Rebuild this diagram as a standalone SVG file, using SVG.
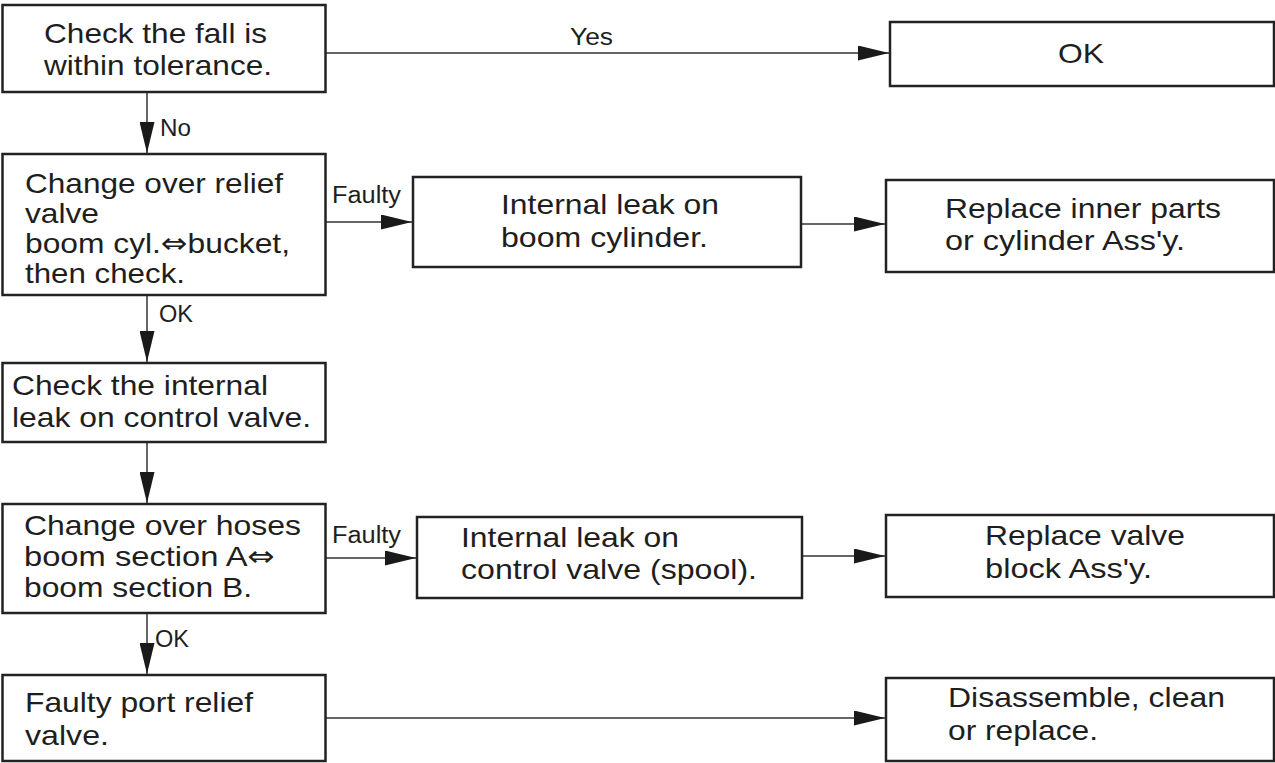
<svg xmlns="http://www.w3.org/2000/svg" width="1275" height="763" viewBox="0 0 1275 763">
<style>
.box{fill:#fff;stroke:#222;stroke-width:2.5}
.t{font-family:"Liberation Sans","DejaVu Sans",Arial,sans-serif;font-size:28.5px;fill:#1e1e1e}
.l{font-family:"Liberation Sans","DejaVu Sans",Arial,sans-serif;font-size:23px;fill:#1e1e1e}
.ar{font-family:"DejaVu Sans",sans-serif}
.c{fill:none;stroke:#333;stroke-width:1.5}
</style>
<defs>
<marker id="ah" markerUnits="userSpaceOnUse" markerWidth="31" markerHeight="15" refX="31" refY="7.5" orient="auto">
<path d="M0,0 L31,7.5 L0,15 z" fill="#1a1a1a"/>
</marker>
</defs>
<rect width="1275" height="763" fill="#fff"/>
<g id="connectors">
<line class="c" x1="326" y1="53" x2="889" y2="53" marker-end="url(#ah)"/>
<line class="c" x1="147" y1="92" x2="147" y2="153" marker-end="url(#ah)"/>
<line class="c" x1="325" y1="222" x2="412" y2="222" marker-end="url(#ah)"/>
<line class="c" x1="801" y1="224" x2="885" y2="224" marker-end="url(#ah)"/>
<line class="c" x1="147" y1="295" x2="147" y2="362" marker-end="url(#ah)"/>
<line class="c" x1="147" y1="442" x2="147" y2="503" marker-end="url(#ah)"/>
<line class="c" x1="325" y1="558" x2="416" y2="558" marker-end="url(#ah)"/>
<line class="c" x1="802" y1="556" x2="885" y2="556" marker-end="url(#ah)"/>
<line class="c" x1="147" y1="613" x2="147" y2="674" marker-end="url(#ah)"/>
<line class="c" x1="325" y1="718" x2="885" y2="718" marker-end="url(#ah)"/>
<text class="l" x="570" y="45" textLength="43" lengthAdjust="spacingAndGlyphs">Yes</text>
<text class="l" x="160" y="136" textLength="31" lengthAdjust="spacingAndGlyphs">No</text>
<text class="l" x="332" y="203" textLength="69" lengthAdjust="spacingAndGlyphs">Faulty</text>
<text class="l" x="159" y="322" textLength="34" lengthAdjust="spacingAndGlyphs">OK</text>
<text class="l" x="332" y="543" textLength="69" lengthAdjust="spacingAndGlyphs">Faulty</text>
<text class="l" x="155" y="647" textLength="34" lengthAdjust="spacingAndGlyphs">OK</text>
</g>
<g id="n1">
<rect class="box" x="2.5" y="5" width="323" height="87"/>
<text class="t" x="44" y="43" textLength="223" lengthAdjust="spacingAndGlyphs">Check the fall is</text>
<text class="t" x="44" y="75" textLength="228" lengthAdjust="spacingAndGlyphs">within tolerance.</text>
</g>
<g id="n_ok">
<rect class="box" x="890" y="22" width="384" height="64"/>
<text class="t" x="1081" y="63" text-anchor="middle" textLength="46" lengthAdjust="spacingAndGlyphs">OK</text>
</g>
<g id="n2">
<rect class="box" x="2.5" y="154" width="323" height="141"/>
<text class="t" x="25" y="193" textLength="258" lengthAdjust="spacingAndGlyphs">Change over relief</text>
<text class="t" x="25" y="223" textLength="74" lengthAdjust="spacingAndGlyphs">valve</text>
<text class="t" x="25" y="253" textLength="265" lengthAdjust="spacingAndGlyphs">boom cyl.<tspan class="ar">⇔</tspan>bucket,</text>
<text class="t" x="25" y="283" textLength="160" lengthAdjust="spacingAndGlyphs">then check.</text>
</g>
<g id="n3">
<rect class="box" x="413" y="177" width="388" height="90"/>
<text class="t" x="501" y="214" textLength="218" lengthAdjust="spacingAndGlyphs">Internal leak on</text>
<text class="t" x="501" y="247" textLength="207" lengthAdjust="spacingAndGlyphs">boom cylinder.</text>
</g>
<g id="n4">
<rect class="box" x="886" y="180" width="388" height="92"/>
<text class="t" x="945" y="218" textLength="276" lengthAdjust="spacingAndGlyphs">Replace inner parts</text>
<text class="t" x="945" y="250" textLength="240" lengthAdjust="spacingAndGlyphs">or cylinder Ass'y.</text>
</g>
<g id="n5">
<rect class="box" x="2.5" y="363" width="323" height="79"/>
<text class="t" x="12" y="395" textLength="256" lengthAdjust="spacingAndGlyphs">Check the internal</text>
<text class="t" x="12" y="427" textLength="299" lengthAdjust="spacingAndGlyphs">leak on control valve.</text>
</g>
<g id="n6">
<rect class="box" x="2.5" y="504" width="323" height="109"/>
<text class="t" x="24" y="535" textLength="277" lengthAdjust="spacingAndGlyphs">Change over hoses</text>
<text class="t" x="24" y="566" textLength="251" lengthAdjust="spacingAndGlyphs">boom section A<tspan class="ar">⇔</tspan></text>
<text class="t" x="24" y="597" textLength="228" lengthAdjust="spacingAndGlyphs">boom section B.</text>
</g>
<g id="n7">
<rect class="box" x="417" y="517" width="385" height="81"/>
<text class="t" x="461" y="547" textLength="218" lengthAdjust="spacingAndGlyphs">Internal leak on</text>
<text class="t" x="461" y="579" textLength="296" lengthAdjust="spacingAndGlyphs">control valve (spool).</text>
</g>
<g id="n8">
<rect class="box" x="886" y="515" width="388" height="82"/>
<text class="t" x="985" y="545" textLength="200" lengthAdjust="spacingAndGlyphs">Replace valve</text>
<text class="t" x="985" y="578" textLength="167" lengthAdjust="spacingAndGlyphs">block Ass'y.</text>
</g>
<g id="n9">
<rect class="box" x="2.5" y="675" width="323" height="86"/>
<text class="t" x="25" y="712" textLength="228" lengthAdjust="spacingAndGlyphs">Faulty port relief</text>
<text class="t" x="25" y="745" textLength="84" lengthAdjust="spacingAndGlyphs">valve.</text>
</g>
<g id="n10">
<rect class="box" x="886" y="678" width="388" height="83"/>
<text class="t" x="948" y="707" textLength="277" lengthAdjust="spacingAndGlyphs">Disassemble, clean</text>
<text class="t" x="948" y="740" textLength="150" lengthAdjust="spacingAndGlyphs">or replace.</text>
</g>
</svg>
